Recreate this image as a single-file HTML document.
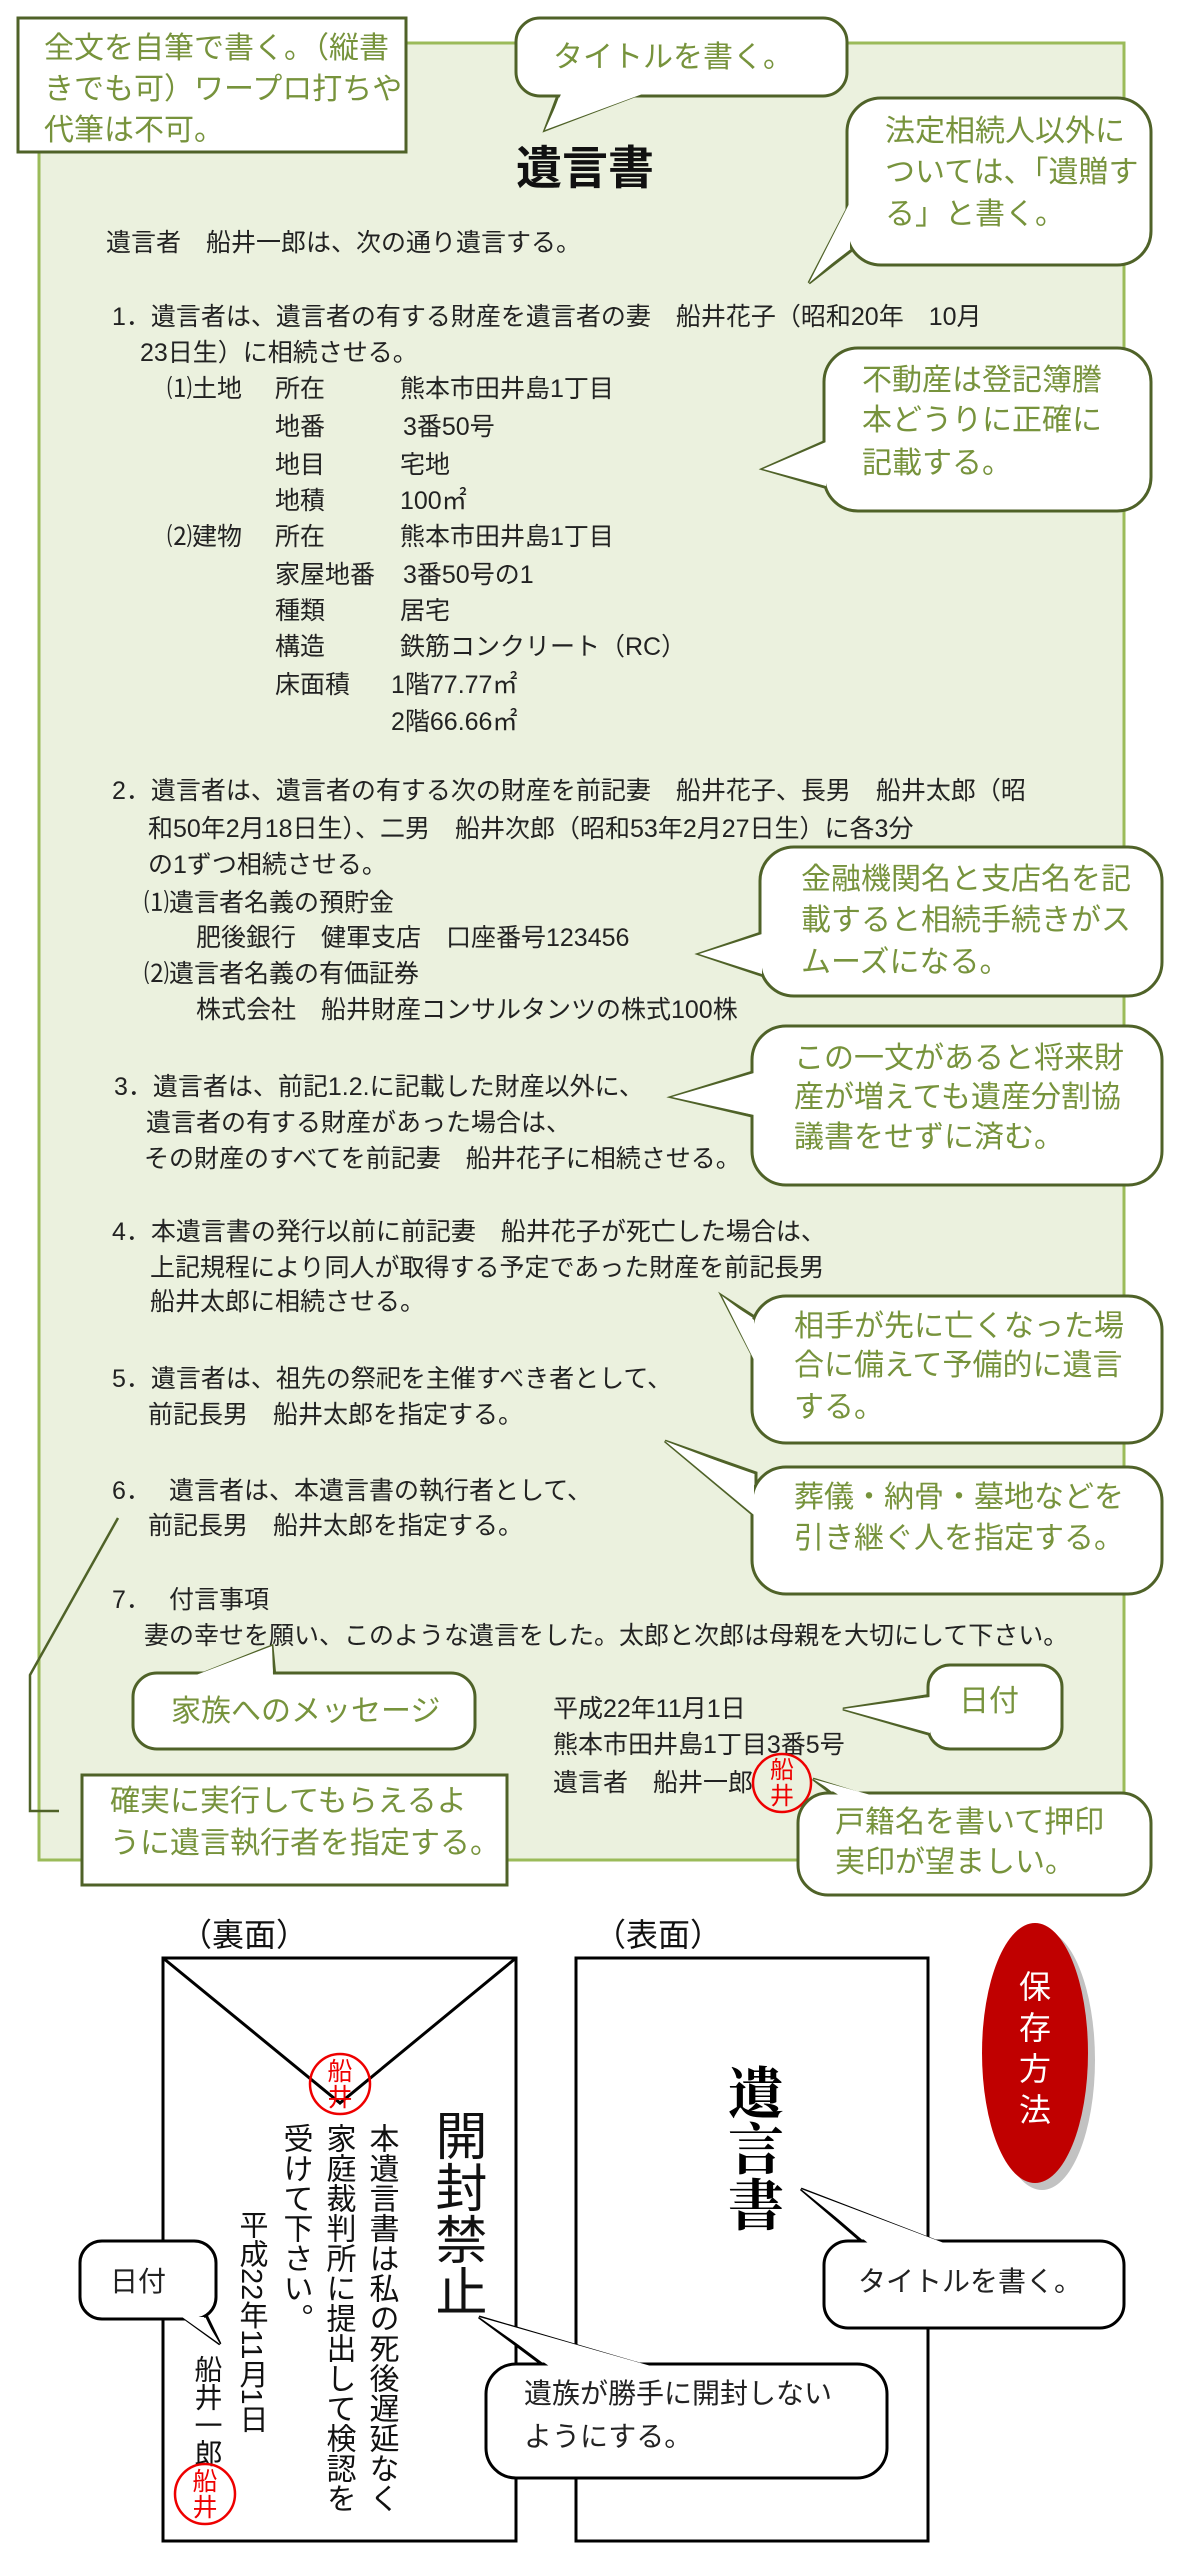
<!DOCTYPE html>
<html><head><meta charset="utf-8"><style>
html,body{margin:0;padding:0;background:#fff;}
svg{display:block;}
text{font-family:"Liberation Sans","Noto Sans CJK JP",sans-serif;}
.b{font-size:25px;fill:#222;}
.g{font-size:30px;fill:#77933c;}
.k{font-size:28px;fill:#222;}
.bs{fill:#fff;stroke:#4f6228;stroke-width:3;}
.bf{fill:#fff;stroke:none;}
.ks{fill:#fff;stroke:#000;stroke-width:3;}
</style></head><body>
<svg width="1185" height="2560" viewBox="0 0 1185 2560" xmlns="http://www.w3.org/2000/svg">
<!-- panel -->
<rect x="39" y="43" width="1085" height="1817" fill="#ebf1de" stroke="#9bbb59" stroke-width="3"/>

<!-- top-left box -->
<rect x="18" y="18" width="388" height="134" class="bs"/>
<text class="g" x="44" y="58">全文を自筆で書く。（縦書</text>
<text class="g" x="44" y="99">きでも可）ワープロ打ちや</text>
<text class="g" x="44" y="140">代筆は不可。</text>

<!-- title bubble -->
<polygon points="545,130 560,90 650,90" class="bs"/>
<rect x="516" y="18" width="331" height="78" rx="24" class="bs"/>
<polygon points="545,130 562,92 648,92" class="bf"/>
<text class="g" x="553" y="67">タイトルを書く。</text>

<text x="516" y="184" style="font-size:46px;font-weight:bold;fill:#111">遺言書</text>

<!-- 法定相続人 bubble -->
<polygon points="809,283 852,200 852,250" class="bs"/>
<rect x="847" y="98" width="304" height="167" rx="34" class="bs"/>
<polygon points="809,283 850,202 850,248" class="bf"/>
<text class="g" x="885" y="141">法定相続人以外に</text>
<text class="g" x="885" y="182">ついては、「遺贈す</text>
<text class="g" x="885" y="224">る」と書く。</text>

<!-- body -->
<text class="b" x="106" y="251">遺言者　船井一郎は、次の通り遺言する。</text>
<text class="b" x="112" y="325">1．遺言者は、遺言者の有する財産を遺言者の妻　船井花子（昭和20年　10月</text>
<text class="b" x="140" y="361">23日生）に相続させる。</text>
<text class="b" x="167" y="397">⑴土地</text><text class="b" x="275" y="397">所在</text><text class="b" x="400" y="397">熊本市田井島1丁目</text>
<text class="b" x="275" y="435">地番</text><text class="b" x="403" y="435">3番50号</text>
<text class="b" x="275" y="473">地目</text><text class="b" x="400" y="473">宅地</text>
<text class="b" x="275" y="509">地積</text><text class="b" x="400" y="509">100㎡</text>
<text class="b" x="167" y="545">⑵建物</text><text class="b" x="275" y="545">所在</text><text class="b" x="400" y="545">熊本市田井島1丁目</text>
<text class="b" x="275" y="583">家屋地番</text><text class="b" x="403" y="583">3番50号の1</text>
<text class="b" x="275" y="619">種類</text><text class="b" x="400" y="619">居宅</text>
<text class="b" x="275" y="655">構造</text><text class="b" x="400" y="655">鉄筋コンクリート（RC）</text>
<text class="b" x="275" y="693">床面積</text><text class="b" x="391" y="693">1階77.77㎡</text>
<text class="b" x="391" y="730">2階66.66㎡</text>

<!-- 不動産 bubble -->
<polygon points="763,469 828,440 828,488" class="bs"/>
<rect x="824" y="348" width="327" height="163" rx="34" class="bs"/>
<polygon points="763,469 826,442 826,486" class="bf"/>
<text class="g" x="862" y="390">不動産は登記簿謄</text>
<text class="g" x="862" y="430">本どうりに正確に</text>
<text class="g" x="862" y="473">記載する。</text>

<text class="b" x="112" y="799">2．遺言者は、遺言者の有する次の財産を前記妻　船井花子、長男　船井太郎（昭</text>
<text class="b" x="148" y="837">和50年2月18日生）、二男　船井次郎（昭和53年2月27日生）に各3分</text>
<text class="b" x="148" y="873">の1ずつ相続させる。</text>
<text class="b" x="144" y="911">⑴遺言者名義の預貯金</text>
<text class="b" x="196" y="946">肥後銀行　健軍支店　口座番号123456</text>
<text class="b" x="144" y="982">⑵遺言者名義の有価証券</text>
<text class="b" x="196" y="1018">株式会社　船井財産コンサルタンツの株式100株</text>

<!-- 金融 bubble -->
<polygon points="699,954 764,932 764,976" class="bs"/>
<rect x="760" y="847" width="402" height="149" rx="34" class="bs"/>
<polygon points="699,954 762,934 762,974" class="bf"/>
<text class="g" x="801" y="889">金融機関名と支店名を記</text>
<text class="g" x="801" y="930">載すると相続手続きがス</text>
<text class="g" x="801" y="972">ムーズになる。</text>

<!-- この一文 bubble -->
<polygon points="672,1097 756,1071 756,1117" class="bs"/>
<rect x="752" y="1026" width="410" height="159" rx="34" class="bs"/>
<polygon points="672,1097 754,1073 754,1115" class="bf"/>
<text class="g" x="794" y="1068">この一文があると将来財</text>
<text class="g" x="794" y="1107">産が増えても遺産分割協</text>
<text class="g" x="794" y="1147">議書をせずに済む。</text>

<text class="b" x="114" y="1095">3．遺言者は、前記1.2.に記載した財産以外に、</text>
<text class="b" x="146" y="1131">遺言者の有する財産があった場合は、</text>
<text class="b" x="144" y="1167">その財産のすべてを前記妻　船井花子に相続させる。</text>

<text class="b" x="112" y="1240">4．本遺言書の発行以前に前記妻　船井花子が死亡した場合は、</text>
<text class="b" x="150" y="1276">上記規程により同人が取得する予定であった財産を前記長男</text>
<text class="b" x="150" y="1310">船井太郎に相続させる。</text>

<!-- 相手が bubble -->
<polygon points="722,1296 756,1318 756,1362" class="bs"/>
<rect x="752" y="1296" width="410" height="147" rx="34" class="bs"/>
<polygon points="722,1296 754,1320 754,1360" class="bf"/>
<text class="g" x="794" y="1336">相手が先に亡くなった場</text>
<text class="g" x="794" y="1375">合に備えて予備的に遺言</text>
<text class="g" x="794" y="1417">する。</text>

<text class="b" x="112" y="1387">5．遺言者は、祖先の祭祀を主催すべき者として、</text>
<text class="b" x="148" y="1423">前記長男　船井太郎を指定する。</text>

<!-- 葬儀 bubble -->
<polygon points="665,1441 756,1473 756,1517" class="bs"/>
<rect x="752" y="1467" width="410" height="127" rx="34" class="bs"/>
<polygon points="665,1441 754,1475 754,1515" class="bf"/>
<text class="g" x="794" y="1507">葬儀・納骨・墓地などを</text>
<text class="g" x="794" y="1548">引き継ぐ人を指定する。</text>

<text class="b" x="112" y="1499">6．</text><text class="b" x="169" y="1499">遺言者は、本遺言書の執行者として、</text>
<text class="b" x="148" y="1534">前記長男　船井太郎を指定する。</text>

<text class="b" x="112" y="1608">7．</text><text class="b" x="169" y="1608">付言事項</text>
<text class="b" x="144" y="1644">妻の幸せを願い、このような遺言をした。太郎と次郎は母親を大切にして下さい。</text>

<!-- connector to 確実 box -->
<polyline points="118,1518 30,1675 30,1811 59,1811" fill="none" stroke="#4f6228" stroke-width="2.5"/>

<!-- 家族 bubble -->
<polygon points="272,1646 194,1677 275,1677" class="bs"/>
<rect x="133" y="1673" width="342" height="76" rx="24" class="bs"/>
<polygon points="272,1646 196,1675 273,1675" class="bf"/>
<text class="g" x="171" y="1721">家族へのメッセージ</text>

<!-- signature -->
<text class="b" x="553" y="1717">平成22年11月1日</text>
<text class="b" x="553" y="1753">熊本市田井島1丁目3番5号</text>
<text class="b" x="553" y="1791">遺言者　船井一郎</text>

<!-- 日付 bubble -->
<polygon points="843,1709 932,1695 932,1735" class="bs"/>
<rect x="928" y="1665" width="134" height="84" rx="22" class="bs"/>
<polygon points="843,1709 930,1697 930,1733" class="bf"/>
<text class="g" x="959" y="1711">日付</text>

<!-- seal -->
<circle cx="782" cy="1783" r="29" fill="none" stroke="#e00" stroke-width="2.5"/>
<text x="782" y="1778" text-anchor="middle" style="font-size:24px;fill:#e00">船</text>
<text x="782" y="1804" text-anchor="middle" style="font-size:24px;fill:#e00">井</text>

<!-- 戸籍名 bubble -->
<polygon points="813,1779 840,1800 880,1800" class="bs"/>
<rect x="798" y="1793" width="353" height="102" rx="30" class="bs"/>
<polygon points="813,1779 842,1797 878,1797" class="bf"/>
<text class="g" x="835" y="1832">戸籍名を書いて押印</text>
<text class="g" x="835" y="1872">実印が望ましい。</text>

<!-- 確実 box -->
<rect x="82" y="1775" width="425" height="110" class="bs"/>
<text class="g" x="110" y="1811">確実に実行してもらえるよ</text>
<text class="g" x="110" y="1853">うに遺言執行者を指定する。</text>

<!-- envelope section -->
<text x="180" y="1946" style="font-size:32px;fill:#111">（裏面）</text>
<text x="594" y="1946" style="font-size:32px;fill:#111">（表面）</text>

<rect x="163" y="1958" width="353" height="583" fill="#fff" stroke="#000" stroke-width="3"/>
<polyline points="163,1958 340,2103 516,1958" fill="none" stroke="#000" stroke-width="3"/>
<rect x="576" y="1958" width="352" height="583" fill="#fff" stroke="#000" stroke-width="3"/>

<!-- seal on flap -->
<circle cx="340" cy="2084" r="30" fill="none" stroke="#e00" stroke-width="2.5"/>
<text x="340" y="2080" text-anchor="middle" style="font-size:25px;fill:#e00">船</text>
<text x="340" y="2106" text-anchor="middle" style="font-size:25px;fill:#e00">井</text>

<!-- vertical texts -->
<g style="writing-mode:vertical-rl;">
</g>
<text x="456" y="2109" style="font-size:52px;fill:#111;writing-mode:tb;glyph-orientation-vertical:0" >開封禁止</text>
<text x="381" y="2123" style="font-size:30px;fill:#111;writing-mode:tb;glyph-orientation-vertical:0">本遺言書は私の死後遅延なく</text>
<text x="338" y="2123" style="font-size:30px;fill:#111;writing-mode:tb;glyph-orientation-vertical:0">家庭裁判所に提出して検認を</text>
<text x="295" y="2123" style="font-size:30px;fill:#111;writing-mode:tb;glyph-orientation-vertical:0">受けて下さい。</text>
<text x="251" y="2210" style="font-size:29px;fill:#111;writing-mode:tb;glyph-orientation-vertical:0">平成22年11月1日</text>
<text x="207" y="2355" style="font-size:28px;fill:#111;writing-mode:tb;glyph-orientation-vertical:0">船井一郎</text>

<circle cx="205" cy="2494" r="30" fill="none" stroke="#e00" stroke-width="2.5"/>
<text x="205" y="2490" text-anchor="middle" style="font-size:25px;fill:#e00">船</text>
<text x="205" y="2516" text-anchor="middle" style="font-size:25px;fill:#e00">井</text>

<!-- 日付 bubble (black) -->
<polygon points="220,2344 180,2315 206,2315" class="ks"/>
<rect x="80" y="2241" width="136" height="78" rx="22" class="ks"/>
<polygon points="220,2344 182,2317 204,2317" class="bf"/>
<text class="k" x="110" y="2291">日付</text>

<!-- front title -->
<text x="756" y="2064" style="font-size:56px;font-weight:bold;fill:#000;font-family:'Noto Serif CJK SC','Liberation Serif',serif;writing-mode:tb;glyph-orientation-vertical:0">遺言書</text>

<!-- 保存方法 -->
<ellipse cx="1042" cy="2060" rx="53" ry="130" fill="#999" opacity="0.6"/>
<ellipse cx="1035" cy="2053" rx="53" ry="130" fill="#c00000"/>
<text x="1035" y="1998" text-anchor="middle" style="font-size:32px;fill:#fff">保</text>
<text x="1035" y="2039" text-anchor="middle" style="font-size:32px;fill:#fff">存</text>
<text x="1035" y="2080" text-anchor="middle" style="font-size:32px;fill:#fff">方</text>
<text x="1035" y="2121" text-anchor="middle" style="font-size:32px;fill:#fff">法</text>

<!-- タイトル bubble 2 -->
<polygon points="801,2189 866,2245 946,2245" class="ks"/>
<rect x="824" y="2241" width="300" height="87" rx="24" class="ks"/>
<polygon points="801,2189 868,2243 944,2243" class="bf"/>
<text class="k" x="858" y="2291">タイトルを書く。</text>

<!-- 遺族 bubble -->
<polygon points="479,2317 547,2368 653,2368" class="ks"/>
<rect x="486" y="2364" width="401" height="114" rx="30" class="ks"/>
<polygon points="479,2317 549,2366 651,2366" class="bf"/>
<text class="k" x="524" y="2403">遺族が勝手に開封しない</text>
<text class="k" x="524" y="2446">ようにする。</text>
</svg>
</body></html>
